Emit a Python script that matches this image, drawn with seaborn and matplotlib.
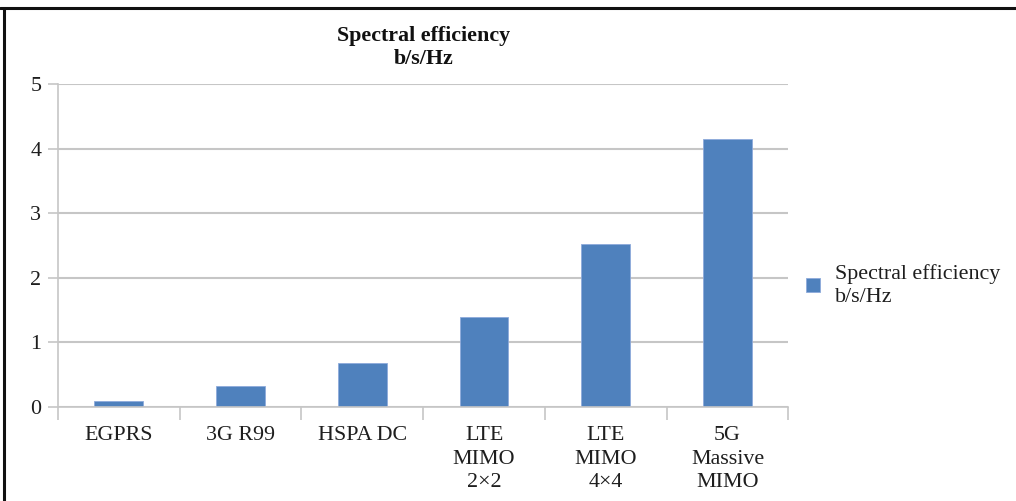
import matplotlib
matplotlib.use("Agg")
import matplotlib.pyplot as plt
from matplotlib.lines import Line2D
import seaborn as sns

# Spectral efficiency per radio technology (b/s/Hz)
technologies = ["EGPRS", "3G R99", "HSPA DC", "LTE\nMIMO\n2\u00d72", "LTE\nMIMO\n4\u00d74", "5G\nMassive\nMIMO"]
efficiency = [0.10, 0.32, 0.68, 1.40, 2.53, 4.15]
yticks = [0, 1, 2, 3, 4, 5]
series_label = "Spectral efficiency\nb/s/Hz"

sns.set_theme(style="white")
plt.rcParams["font.family"] = ["Liberation Serif", "DejaVu Serif"]

bar_color = "#4F81BD"
grid_color = "#C6C6C6"
text_color = "#1E1E1E"
fs = 15.8

fig = plt.figure(figsize=(10.16, 5.01), dpi=100)
ax = fig.add_axes([0.057, 0.1876, 0.719, 0.6447])

sns.barplot(x=technologies, y=efficiency, color=bar_color, width=0.4,
            saturation=1, edgecolor="#8EAADB", linewidth=0.6,
            label=series_label, ax=ax)

ax.set_ylim(0, 5)
ax.set_xlim(-0.5, len(technologies) - 0.5)
ax.set_yticks(yticks)
ax.set_yticklabels([str(t) for t in yticks], fontsize=fs, color=text_color)
ax.yaxis.grid(True, color=grid_color, linewidth=1.5)
ax.set_axisbelow(True)

for side in ["top", "right"]:
    ax.spines[side].set_visible(False)
for side in ["left", "bottom"]:
    ax.spines[side].set_color(grid_color)
    ax.spines[side].set_linewidth(1.2)

# Category ticks sit at the boundaries between groups
ax.set_xticks([i + 0.5 for i in range(-1, len(technologies))], minor=False)
ax.set_xticklabels([""] * (len(technologies) + 1))
ax.set_xticks(range(len(technologies)), minor=True)
ax.set_xticklabels(technologies, minor=True, fontsize=fs, color=text_color,
                   linespacing=1.32)
ax.tick_params(axis="x", which="major", length=9, width=1.2, color=grid_color, bottom=True)
ax.tick_params(axis="x", which="minor", length=0, pad=14, bottom=True)
ax.tick_params(axis="y", length=7, width=1.2, color=grid_color, pad=5, left=True)
for lbl in ax.get_xticklabels(minor=True):
    lbl.set_verticalalignment("top")

ax.set_xlabel("")
ax.set_ylabel("")

fig.text(0.4165, 0.928, "Spectral efficiency", ha="center", va="center",
         fontsize=fs, fontweight="bold", color="#111111")
fig.text(0.4165, 0.883, "b/s/Hz", ha="center", va="center",
         fontsize=fs, fontweight="bold", color="#111111")

leg = ax.legend(loc="center left", bbox_to_anchor=(0.793, 0.43),
                bbox_transform=fig.transFigure, frameon=False,
                fontsize=fs, handlelength=0.65, handleheight=0.65,
                handletextpad=0.7, borderaxespad=0, borderpad=0)
for t in leg.get_texts():
    t.set_color(text_color)
    t.set_linespacing(1.3)

# Outer frame lines along the top and left edges
fig.add_artist(Line2D([0, 1], [0.9835, 0.9835], transform=fig.transFigure,
                      color="#111111", linewidth=2.2))
fig.add_artist(Line2D([0.0035, 0.0035], [0, 0.9835], transform=fig.transFigure,
                      color="#111111", linewidth=2.2))

fig.savefig("out.png", dpi=100, facecolor="white")
